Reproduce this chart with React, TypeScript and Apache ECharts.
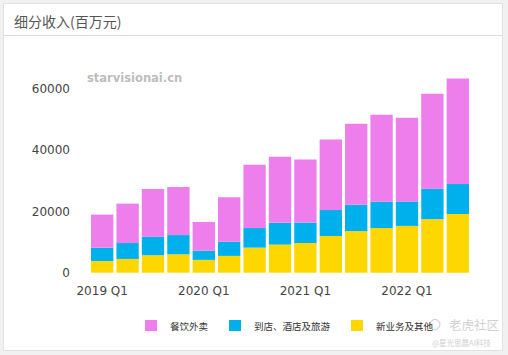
import React, { useEffect, useRef } from "react";
import * as echarts from "echarts";

const categories = [
  "2019 Q1", "2019 Q2", "2019 Q3", "2019 Q4",
  "2020 Q1", "2020 Q2", "2020 Q3", "2020 Q4",
  "2021 Q1", "2021 Q2", "2021 Q3", "2021 Q4",
  "2022 Q1", "2022 Q2", "2022 Q3",
];
const newBusiness = [3800, 4500, 5700, 6000, 4200, 5500, 8200, 9200, 9700, 12000, 13600, 14600, 15300, 17500, 19200];
const inStoreTravel = [4400, 5200, 6100, 6300, 3000, 4600, 6400, 7100, 6700, 8500, 8600, 8600, 8000, 10000, 9800];
const foodDelivery = [10800, 12900, 15600, 15700, 9400, 14600, 20700, 21600, 20600, 23100, 26500, 28500, 27400, 31000, 34500];
const seriesNames = ["餐饮外卖", "到店、酒店及旅游", "新业务及其他"];
const yTicks = { min: 0, max: 70000, interval: 20000 };

export default function App() {
  const ref = useRef<HTMLDivElement>(null);
  useEffect(() => {
    if (!ref.current) return;
    const chart = echarts.init(ref.current, null, { renderer: "svg" });
    const font = "'DejaVu Sans', 'Noto Sans CJK SC', sans-serif";
    const cjk = "'Noto Sans CJK SC', sans-serif";
    chart.setOption({
      animation: false,
      backgroundColor: "#f1f1f1",
      textStyle: { fontFamily: font },
      graphic: [
        {
          type: "rect", z: -10, silent: true,
          shape: { x: 3.5, y: 3.5, width: 499, height: 347 },
          style: { fill: "#ffffff", stroke: "#e2e2e2", lineWidth: 1 },
        },
        {
          type: "line", z: -9, silent: true,
          shape: { x1: 4, y1: 35.5, x2: 502, y2: 35.5 },
          style: { stroke: "#dcdcdc", lineWidth: 1 },
        },
        {
          type: "text", x: 14, y: 21,
          style: { text: "细分收入(百万元)", font: `14px ${cjk}`, fill: "#555", verticalAlign: "middle" },
        },
        {
          type: "text", x: 87, y: 78,
          style: { text: "starvisionai.cn", font: `bold 11.5px ${font}`, fill: "#bdbdbd", verticalAlign: "middle" },
        },
        {
          type: "circle", shape: { cx: 435, cy: 324.5, r: 5 },
          style: { fill: "none", stroke: "#d4d4d4", lineWidth: 1.2 },
        },
        {
          type: "text", x: 449, y: 324.5,
          style: { text: "老虎社区", font: `12.5px ${cjk}`, fill: "#d0d0d0", verticalAlign: "middle" },
        },
        {
          type: "text", x: 432, y: 342,
          style: { text: "@星光思晨AI科技", font: `7.5px ${cjk}`, fill: "#cfcfcf", verticalAlign: "middle" },
        },
      ],
      grid: { left: 89.5, right: 37.5, top: 58.7, bottom: 82.3 },
      legend: {
        data: seriesNames,
        left: 140, top: 315,
        icon: "rect", itemWidth: 12, itemHeight: 11, itemGap: 21,
        textStyle: { fontSize: 9.5, color: "#333", fontFamily: cjk, padding: [0, 0, 0, 8] },
      },
      xAxis: {
        type: "category",
        data: categories,
        axisLine: { show: false },
        axisTick: { show: false },
        axisLabel: { interval: 3, color: "#444", fontSize: 12, margin: 12 },
      },
      yAxis: {
        type: "value",
        min: yTicks.min, max: yTicks.max, interval: yTicks.interval,
        splitLine: { show: false },
        axisLine: { show: false },
        axisTick: { show: false },
        axisLabel: {
          color: "#444", fontSize: 12, margin: 19.5, showMaxLabel: false,
          formatter: (v: number) => String(v),
        },
      },
      series: [
        {
          name: seriesNames[2], type: "bar", stack: "total", data: newBusiness,
          itemStyle: { color: "#FFD700" }, barCategoryGap: "12%",
        },
        {
          name: seriesNames[1], type: "bar", stack: "total", data: inStoreTravel,
          itemStyle: { color: "#00B0EC" }, barCategoryGap: "12%",
        },
        {
          name: seriesNames[0], type: "bar", stack: "total", data: foodDelivery,
          itemStyle: { color: "#EE7EEB" }, barCategoryGap: "12%",
        },
      ],
    });
    return () => chart.dispose();
  }, []);
  return (
    <div
      ref={ref}
      style={{ position: "absolute", left: 0, top: 0, width: 508, height: 355 }}
    />
  );
}
